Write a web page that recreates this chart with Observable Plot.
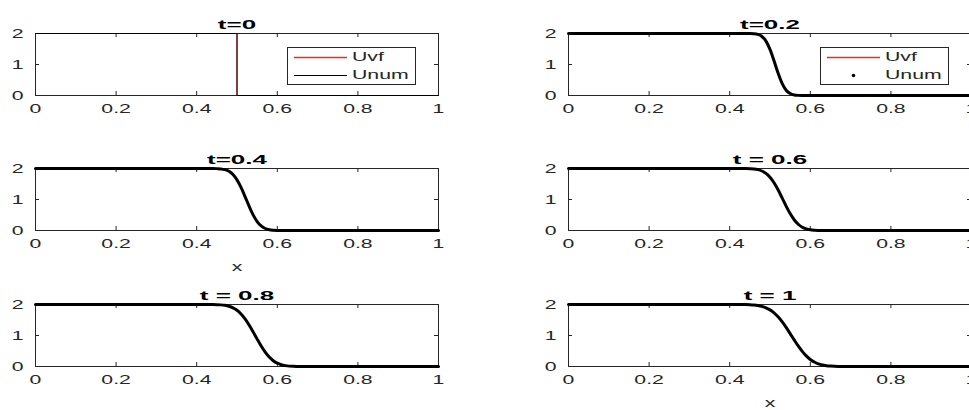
<!DOCTYPE html>
<html><head><meta charset="utf-8">
<script src="https://cdn.jsdelivr.net/npm/d3@7"></script>
<script src="https://cdn.jsdelivr.net/npm/@observablehq/plot@0.6"></script>
<style>
html,body{margin:0;padding:0;background:#fff;overflow:hidden;width:969px;height:410px}
#root{position:relative;width:969px;height:410px;overflow:hidden;font-family:"Liberation Sans",Arial,sans-serif;color:#262626}
.panel{position:absolute}
.legend{position:absolute;border:1px solid #262626;background:#fff;box-sizing:border-box}
.legend svg{position:absolute;left:0;top:0}
.legend span{position:absolute;font-size:12.5px;line-height:13px;transform:scaleX(1.7);transform-origin:left center;white-space:nowrap;color:#262626}
</style></head>
<body><div id="root"></div>
<script>
// ---- data ----
const xTicks = [0, 0.2, 0.4, 0.6, 0.8, 1];
const xTickLabels = ["0", "0.2", "0.4", "0.6", "0.8", "1"];
const yTicks = [0, 1, 2];
const yTickLabels = ["0", "1", "2"];
const titles = ["t=0", "t=0.2", "t=0.4", "t = 0.6", "t = 0.8", "t = 1"];
const legendNames = ["Uvf", "Unum"];

// t = 0 : step
const xStep = [0, 0.5, 0.5, 1];
const uStep = [2, 2, 0, 0];

// later times
const xs = [0, 0.1, 0.2, 0.3, 0.4,
  0.44, 0.45, 0.46, 0.47, 0.48, 0.49, 0.50, 0.51, 0.52, 0.53, 0.54, 0.55,
  0.56, 0.57, 0.58, 0.59, 0.60, 0.61, 0.62, 0.63, 0.64, 0.65, 0.66, 0.67,
  0.7, 0.8, 0.9, 1];
const u02 = [2, 2, 2, 2, 2,
  2.0, 1.999, 1.993, 1.970, 1.904, 1.754, 1.487, 1.120, 0.724, 0.391, 0.171, 0.062,
  0.018, 0.004, 0.001, 0, 0, 0, 0, 0, 0, 0, 0, 0,
  0, 0, 0, 0];
const u04 = [2, 2, 2, 2, 2,
  1.999, 1.996, 1.987, 1.962, 1.909, 1.805, 1.633, 1.390, 1.094, 0.784, 0.505, 0.290,
  0.147, 0.065, 0.025, 0.009, 0.003, 0.001, 0, 0, 0, 0, 0, 0,
  0, 0, 0, 0];
const u06 = [2, 2, 2, 2, 2,
  1.998, 1.994, 1.985, 1.963, 1.919, 1.843, 1.718, 1.541, 1.314, 1.054, 0.788, 0.545,
  0.347, 0.201, 0.107, 0.051, 0.022, 0.009, 0.003, 0.001, 0, 0, 0, 0,
  0, 0, 0, 0];
const u08 = [2, 2, 2, 2, 2,
  1.998, 1.995, 1.988, 1.973, 1.944, 1.894, 1.814, 1.696, 1.538, 1.341, 1.117, 0.883,
  0.659, 0.462, 0.304, 0.186, 0.106, 0.056, 0.028, 0.012, 0.005, 0.002, 0, 0,
  0, 0, 0, 0];
const u10 = [2, 2, 2, 2, 2,
  1.996, 1.992, 1.983, 1.967, 1.939, 1.894, 1.826, 1.731, 1.604, 1.445, 1.261, 1.062,
  0.858, 0.662, 0.488, 0.342, 0.228, 0.144, 0.085, 0.048, 0.026, 0.013, 0.006, 0.003,
  0, 0, 0, 0];

const root = document.getElementById("root");
const FONT = '"Liberation Sans", Arial, sans-serif';
const INK = "#262626";

function stretchText(svg) {
  svg.querySelectorAll("text").forEach(t => {
    const bold = +getComputedStyle(t).fontWeight >= 600;
    const s = bold ? 2.0 : 1.7;
    const x = +(t.getAttribute("x") || 0);
    const tr = t.getAttribute("transform") || "";
    t.setAttribute("transform", `${tr} translate(${x},0) scale(${s},1) translate(${-x},0)`);
  });
}

function panel({title, xArr, uvf, unum, thick, frameLeft, frameTop, xlabel}) {
  const W = 403, H = 62, ml = 40, mr = 20, mt = 33, mb = 46;
  const data = xArr.map((x, i) => ({x, uvf: uvf[i], unum: unum[i]}));
  const curve = thick ? "monotone-x" : "linear";
  const marks = [
    Plot.frame({stroke: INK, strokeWidth: 1}),
    Plot.ruleX(xTicks, {x: d => d, insetBottom: H - 4, stroke: INK}),
    Plot.ruleX(xTicks, {x: d => d, insetTop: H - 4, stroke: INK}),
    Plot.ruleY(yTicks, {y: d => d, insetRight: W - 4, stroke: INK}),
    Plot.ruleY(yTicks, {y: d => d, insetLeft: W - 4, stroke: INK}),
    Plot.line(data, {x: "x", y: "uvf", stroke: "red", strokeWidth: 1, curve}),
    Plot.line(data, {x: "x", y: "unum", stroke: "black", strokeWidth: thick ? 3 : 1, curve}),
    Plot.text([title], {text: d => d, frameAnchor: "top", lineAnchor: "bottom", dy: -5, fontWeight: "bold", fontSize: 13, fill: "black"})
  ];
  if (xlabel) marks.push(Plot.text(["x"], {text: d => d, frameAnchor: "bottom", lineAnchor: "middle", dy: 36, fontSize: 12.5, fill: INK}));
  const svg = Plot.plot({
    width: W + ml + mr, height: H + mt + mb,
    marginLeft: ml, marginRight: mr, marginTop: mt, marginBottom: mb,
    style: {fontFamily: FONT, fontSize: "12.5px", color: INK, background: "transparent"},
    x: {domain: [0, 1], ticks: xTicks, tickFormat: d => xTickLabels[xTicks.indexOf(d)], tickSize: 0, tickPadding: 9, label: null},
    y: {domain: [0, 2], ticks: yTicks, tickFormat: d => yTickLabels[yTicks.indexOf(d)], tickSize: 0, tickPadding: 12, label: null},
    marks
  });
  svg.classList.add("panel");
  svg.style.left = (frameLeft - ml) + "px";
  svg.style.top = (frameTop - mt) + "px";
  root.appendChild(svg);
  stretchText(svg);
}

function legend(left, top, second) {
  const div = document.createElement("div");
  div.className = "legend";
  Object.assign(div.style, {left: left + "px", top: top + "px", width: "129px", height: "38px"});
  const ns = "http://www.w3.org/2000/svg";
  const s = document.createElementNS(ns, "svg");
  s.setAttribute("width", 127); s.setAttribute("height", 36);
  const l1 = document.createElementNS(ns, "line");
  Object.entries({x1: 6, x2: 59, y1: 9.5, y2: 9.5, stroke: "#ff2020", "stroke-width": 1.3}).forEach(([k, v]) => l1.setAttribute(k, v));
  s.appendChild(l1);
  if (second === "line") {
    const l2 = document.createElementNS(ns, "line");
    Object.entries({x1: 6, x2: 59, y1: 27.5, y2: 27.5, stroke: "black", "stroke-width": 1}).forEach(([k, v]) => l2.setAttribute(k, v));
    s.appendChild(l2);
  } else {
    const c = document.createElementNS(ns, "circle");
    Object.entries({cx: 32.5, cy: 27.5, r: 1.8, fill: "black"}).forEach(([k, v]) => c.setAttribute(k, v));
    s.appendChild(c);
  }
  div.appendChild(s);
  legendNames.forEach((name, i) => {
    const sp = document.createElement("span");
    sp.textContent = name;
    sp.style.left = "64px";
    sp.style.top = (i === 0 ? 3 : 21) + "px";
    div.appendChild(sp);
  });
  root.appendChild(div);
}

const colL = 35, colR = 568;
const rows = [33, 168, 304];
panel({title: titles[0], xArr: xStep, uvf: uStep, unum: uStep, thick: false, frameLeft: colL, frameTop: rows[0]});
panel({title: titles[1], xArr: xs, uvf: u02, unum: u02, thick: true, frameLeft: colR, frameTop: rows[0]});
panel({title: titles[2], xArr: xs, uvf: u04, unum: u04, thick: true, frameLeft: colL, frameTop: rows[1], xlabel: true});
panel({title: titles[3], xArr: xs, uvf: u06, unum: u06, thick: true, frameLeft: colR, frameTop: rows[1]});
panel({title: titles[4], xArr: xs, uvf: u08, unum: u08, thick: true, frameLeft: colL, frameTop: rows[2]});
panel({title: titles[5], xArr: xs, uvf: u10, unum: u10, thick: true, frameLeft: colR, frameTop: rows[2], xlabel: true});
legend(287, 47, "line");
legend(820, 47, "dot");
</script>
</body></html>
